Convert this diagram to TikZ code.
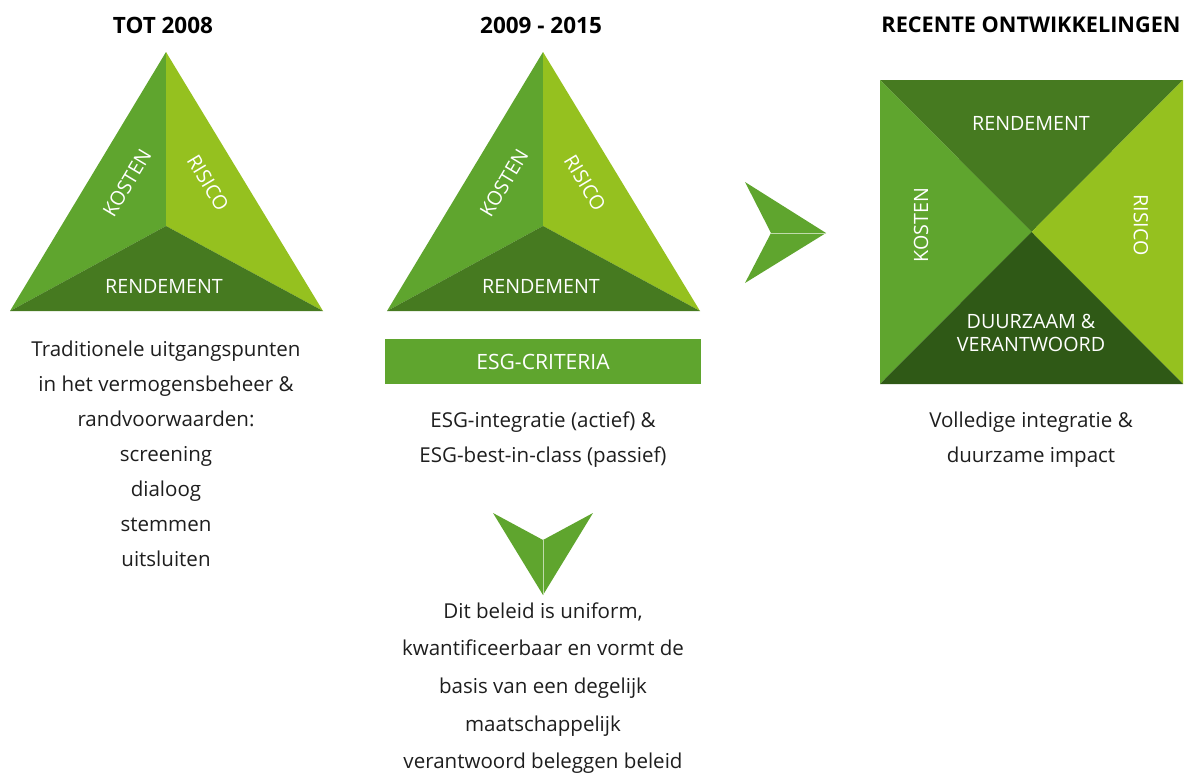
\documentclass[tikz,border=0pt]{standalone}
\usepackage{fontspec}
\setmainfont{Open Sans}
\usepackage{tikz}

\definecolor{midgreen}{HTML}{5FA52E}
\definecolor{limegreen}{HTML}{95C11F}
\definecolor{darkgreen}{HTML}{467A20}
\definecolor{deepgreen}{HTML}{2F5916}
\definecolor{inktext}{HTML}{1E1E1E}

\begin{document}
\begin{tikzpicture}[x=0.025cm,y=-0.025cm,
  title/.style={font=\fontsize{16}{18}\selectfont\bfseries,text=black},
  body/.style={font=\fontsize{14.6}{24.9}\selectfont,text=inktext,align=center},
  lbl/.style={font=\fontsize{14}{17}\selectfont,text=white,align=center}]
\useasboundingbox (0,0) rectangle (1184,776);

% headings
\node[title] (t1) at (163,25) {TOT 2008};
\node[title] (t2) at (541,25) {2009 - 2015};
\node[title,font=\fontsize{15.4}{18}\selectfont\bfseries] (t3) at (1031,25) {RECENTE ONTWIKKELINGEN};

% first triangle
\coordinate (a1) at (166,52);
\coordinate (l1) at (10,311);
\coordinate (r1) at (323,311);
\coordinate (m1) at (166,226);
\fill[midgreen] (a1) -- (m1) -- (l1) -- cycle;
\fill[limegreen] (a1) -- (r1) -- (m1) -- cycle;
\fill[darkgreen] (l1) -- (m1) -- (r1) -- cycle;
\node[lbl,rotate=59] (k1) at (127,183) {KOSTEN};
\node[lbl,rotate=-59] (s1) at (208,183) {RISICO};
\node[lbl] (d1) at (164,286) {RENDEMENT};

\node[body] (x1) at (166,454) {Traditionele uitgangspunten\\in het vermogensbeheer \&\\randvoorwaarden:\\screening\\dialoog\\stemmen\\uitsluiten};

% second triangle
\coordinate (a2) at (543,52);
\coordinate (l2) at (387,311);
\coordinate (r2) at (700,311);
\coordinate (m2) at (543,226);
\fill[midgreen] (a2) -- (m2) -- (l2) -- cycle;
\fill[limegreen] (a2) -- (r2) -- (m2) -- cycle;
\fill[darkgreen] (l2) -- (m2) -- (r2) -- cycle;
\node[lbl,rotate=59] (k2) at (504,183) {KOSTEN};
\node[lbl,rotate=-59] (s2) at (585,183) {RISICO};
\node[lbl] (d2) at (541,286) {RENDEMENT};

\node[fill=midgreen,minimum width=316*0.025cm,minimum height=45*0.025cm,inner sep=0pt,
  font=\fontsize{15}{17}\selectfont,text=white] (esg) at (543,361.5) {ESG-CRITERIA};
\node[body] (x2) at (543,440) {ESG-integratie (actief) \&\\ESG-best-in-class (passief)};

% arrow down
\coordinate (p1) at (493,513);
\coordinate (p2) at (543,540);
\coordinate (p3) at (593,513);
\coordinate (p4) at (543,595);
\fill[midgreen] (p1) -- (p2) -- (p4) -- cycle;
\fill[midgreen] (p3) -- (p2) -- (p4) -- cycle;
\draw[white!60!midgreen,line width=0.5pt] (p2) -- (p4);

\node[body,font=\fontsize{14.6}{26.8}\selectfont] (x3) at (543,688) {Dit beleid is uniform,\\kwantificeerbaar en vormt de\\basis van een degelijk\\maatschappelijk\\verantwoord beleggen beleid};

% arrow right
\coordinate (q1) at (745,182);
\coordinate (q2) at (771,233);
\coordinate (q3) at (745,283);
\coordinate (q4) at (826,233);
\fill[midgreen] (q1) -- (q4) -- (q2) -- cycle;
\fill[midgreen] (q3) -- (q4) -- (q2) -- cycle;
\draw[white!60!midgreen,line width=0.5pt] (q2) -- (q4);

% square
\coordinate (nw) at (880,80);
\coordinate (ne) at (1183,80);
\coordinate (se) at (1183,384);
\coordinate (sw) at (880,384);
\coordinate (c3) at (1031.5,232);
\fill[darkgreen] (nw) -- (ne) -- (c3) -- cycle;
\fill[midgreen] (nw) -- (c3) -- (sw) -- cycle;
\fill[limegreen] (ne) -- (se) -- (c3) -- cycle;
\fill[deepgreen] (sw) -- (c3) -- (se) -- cycle;
\node[lbl] (d3) at (1031,123) {RENDEMENT};
\node[lbl,rotate=90] (k3) at (921,225) {KOSTEN};
\node[lbl,rotate=-90] (s3) at (1141,225) {RISICO};
\node[lbl,font=\fontsize{14}{16.5}\selectfont] (u3) at (1031,333) {DUURZAAM \&\\VERANTWOORD};

\node[body] (x4) at (1031,440) {Volledige integratie \&\\duurzame impact};
\end{tikzpicture}
\end{document}
